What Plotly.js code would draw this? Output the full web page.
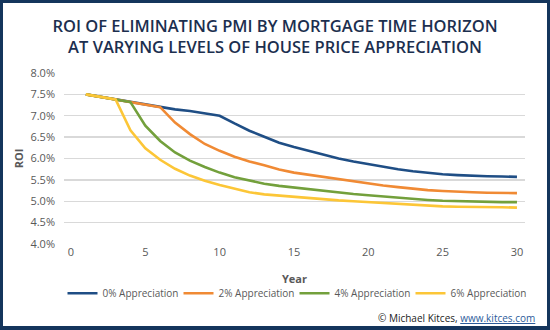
<!DOCTYPE html>
<html>
<head>
<meta charset="utf-8">
<script src="https://cdn.plot.ly/plotly-3.0.1.min.js"></script>
<style>
  html, body { margin: 0; padding: 0; background: #ffffff; }
  #wrap { position: relative; width: 550px; height: 330px; }
  #chart { position: absolute; left: 0; top: 0; width: 550px; height: 330px; }
  #frame { position: absolute; left: 0; top: 0; width: 550px; height: 330px; box-sizing: border-box;
           border: 3px solid #14355c; border-bottom-width: 4px; pointer-events: none; }
</style>
</head>
<body>
<div id="wrap">
  <div id="chart"></div>
  <div id="frame"></div>
</div>
<script>
const years = [1,2,3,4,5,6,7,8,9,10,11,12,13,14,15,16,17,18,19,20,21,22,23,24,25,26,27,28,29,30];

const seriesNames = ["0% Appreciation", "2% Appreciation", "4% Appreciation", "6% Appreciation"];

const roi0 = [7.50,7.44,7.38,7.32,7.26,7.20,7.15,7.11,7.06,7.00,
              6.82,6.65,6.51,6.37,6.27,6.18,6.08,6.00,5.93,5.87,
              5.80,5.75,5.70,5.66,5.63,5.61,5.59,5.585,5.58,5.57];
const roi2 = [7.50,7.44,7.38,7.32,7.26,7.20,6.84,6.57,6.34,6.18,
              6.04,5.93,5.84,5.74,5.67,5.62,5.56,5.51,5.46,5.42,
              5.37,5.33,5.29,5.26,5.24,5.22,5.21,5.20,5.20,5.19];
const roi4 = [7.50,7.44,7.38,7.32,6.77,6.41,6.14,5.95,5.80,5.67,
              5.56,5.48,5.41,5.36,5.32,5.28,5.24,5.20,5.17,5.14,
              5.11,5.08,5.05,5.03,5.01,5.00,4.99,4.98,4.98,4.98];
const roi6 = [7.50,7.44,7.38,6.66,6.24,5.97,5.76,5.60,5.48,5.38,
              5.29,5.21,5.16,5.13,5.10,5.07,5.05,5.02,5.00,4.98,
              4.95,4.93,4.91,4.89,4.88,4.87,4.87,4.86,4.86,4.85];

const yTickVals = [4.0,4.5,5.0,5.5,6.0,6.5,7.0,7.5,8.0];
const yTickText = ["4.0%","4.5%","5.0%","5.5%","6.0%","6.5%","7.0%","7.5%","8.0%"];
const xTickVals = [0,5,10,15,20,25,30];

const colors = ["#1f4e85", "#f08a34", "#73a03c", "#fcc637"];
const allSeries = [roi0, roi2, roi4, roi6];

const traces = allSeries.map((vals, i) => ({
  type: "scatter",
  mode: "lines",
  x: years,
  y: vals,
  name: seriesNames[i],
  line: { color: colors[i], width: 2.6 },
  hoverinfo: "skip"
}));

const fontFam = "'Open Sans', 'DejaVu Sans', sans-serif";

const layout = {
  width: 550,
  height: 330,
  paper_bgcolor: "#ffffff",
  plot_bgcolor: "#ffffff",
  margin: { l: 64, r: 25, t: 72.5, b: 85.5, pad: 0 },
  font: { family: fontFam, size: 11, color: "#595959" },
  title: {
    text: "ROI OF ELIMINATING PMI BY MORTGAGE TIME HORIZON<br>AT VARYING LEVELS OF HOUSE PRICE APPRECIATION",
    font: { family: fontFam, size: 16.5, color: "#1c2f4f", weight: 600 },
    x: 0.5, xanchor: "center",
    y: 1 - 31.5/330, yanchor: "middle", yref: "container"
  },
  xaxis: {
    range: [-0.47, 30.54],
    tickvals: xTickVals,
    showgrid: false,
    zeroline: false,
    showline: false,
    ticks: "",
    tickfont: { size: 11, color: "#595959" },
    title: { text: "Year", font: { size: 11, color: "#595959", weight: 700 }, standoff: 17 }
  },
  yaxis: {
    range: [4, 8],
    tickvals: yTickVals,
    ticktext: yTickText,
    showgrid: true,
    gridcolor: "#d9d9d9",
    gridwidth: 1.3,
    zeroline: false,
    showline: false,
    ticks: "",
    ticklabelstandoff: 8,
    tickfont: { size: 11, color: "#595959" },
    title: { text: "ROI", font: { size: 11, color: "#595959", weight: 700 }, standoff: 4 }
  },
  showlegend: true,
  legend: {
    orientation: "h",
    x: 0.5, xanchor: "center",
    y: (244.5 - 294) / 172, yanchor: "middle",
    font: { size: 10, color: "#595959" },
    itemwidth: 30,
    entrywidth: 71,
    entrywidthmode: "pixels",
    traceorder: "normal",
    bgcolor: "rgba(0,0,0,0)"
  },
  annotations: [{
    text: "© Michael Kitces, <span style=\"color:#2b5b9a;text-decoration:underline\">www.kitces.com</span>",
    xref: "paper", yref: "paper",
    x: (537 - 64) / 461, xanchor: "right",
    y: (244.5 - 319) / 172, yanchor: "middle",
    showarrow: false,
    font: { family: fontFam, size: 10, color: "#222222" }
  }]
};

Plotly.newPlot("chart", traces, layout, { displayModeBar: false, staticPlot: true });
</script>
</body>
</html>
